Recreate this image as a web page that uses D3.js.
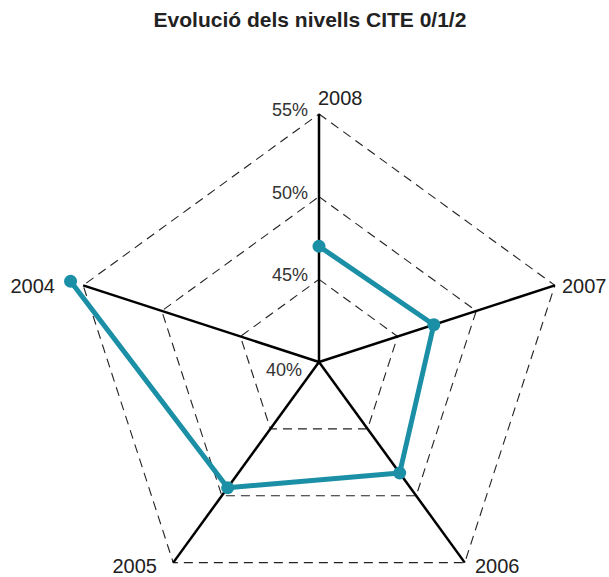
<!DOCTYPE html>
<html>
<head>
<meta charset="utf-8">
<script src="https://cdn.jsdelivr.net/npm/d3@7"></script>
<style>
  body { margin: 0; background: #fff; }
  text { font-family: "Liberation Sans", Arial, sans-serif; }
</style>
</head>
<body>
<svg width="609" height="577"></svg>
<script>
// data
var years = ["2008", "2007", "2006", "2005", "2004"];
var values = [47.0, 47.3, 48.3, 49.4, 55.8];
var levels = [45, 50, 55];
var levelLabels = [40, 45, 50, 55];

var svg = d3.select("svg"),
    cx = 319,
    cy = 362,
    radius = 248;

var r = d3.scaleLinear().domain([40, 55]).range([0, radius]);
var angle = d3.scaleLinear().domain([0, years.length]).range([0, 2 * Math.PI]);

function pt(i, v) {
    var a = angle(i);
    return [cx + r(v) * Math.sin(a), cy - r(v) * Math.cos(a)];
}

// title
svg.append("text")
    .attr("x", 310)
    .attr("y", 27)
    .attr("text-anchor", "middle")
    .style("font-size", "21px")
    .style("font-weight", "bold")
    .style("fill", "#222")
    .text("Evolució dels nivells CITE 0/1/2");

// dashed rings
svg.selectAll(".ring")
    .data(levels)
    .enter().append("polygon")
    .attr("class", "ring")
    .attr("points", function(l) {
        return years.map(function(y, i) { return pt(i, l).join(","); }).join(" ");
    })
    .style("fill", "none")
    .style("stroke", "#222")
    .style("stroke-width", 1.1)
    .style("stroke-dasharray", "9,6");

// axes
svg.selectAll(".axis")
    .data(years)
    .enter().append("line")
    .attr("class", "axis")
    .attr("x1", cx)
    .attr("y1", cy)
    .attr("x2", function(d, i) { return pt(i, 55)[0]; })
    .attr("y2", function(d, i) { return pt(i, 55)[1]; })
    .style("stroke", "#000")
    .style("stroke-width", 2.5);

// percent labels
svg.selectAll(".lvl")
    .data(levelLabels)
    .enter().append("text")
    .attr("class", "lvl")
    .attr("x", function(d) { return d == 40 ? 302 : 308; })
    .attr("y", function(d) { return cy - r(d) + (d == 40 ? 14 : 2); })
    .attr("text-anchor", "end")
    .style("font-size", "18px")
    .style("fill", "#333")
    .text(function(d) { return d + "%"; });

// year labels
var lblPos = [
    {x: 318, y: 105, a: "start"},
    {x: 562, y: 293, a: "start"},
    {x: 475, y: 573, a: "start"},
    {x: 157, y: 573, a: "end"},
    {x: 55, y: 293, a: "end"}
];
svg.selectAll(".yr")
    .data(years)
    .enter().append("text")
    .attr("class", "yr")
    .attr("x", function(d, i) { return lblPos[i].x; })
    .attr("y", function(d, i) { return lblPos[i].y; })
    .attr("text-anchor", function(d, i) { return lblPos[i].a; })
    .style("font-size", "20px")
    .style("fill", "#222")
    .text(function(d) { return d; });

// series
var line = d3.line()
    .x(function(d, i) { return pt(i, d)[0]; })
    .y(function(d, i) { return pt(i, d)[1]; });

svg.append("path")
    .datum(values)
    .attr("d", line)
    .style("fill", "none")
    .style("stroke", "#1a8fa6")
    .style("stroke-width", 5)
    .style("stroke-linejoin", "round");

svg.selectAll(".dot")
    .data(values)
    .enter().append("circle")
    .attr("class", "dot")
    .attr("cx", function(d, i) { return pt(i, d)[0]; })
    .attr("cy", function(d, i) { return pt(i, d)[1]; })
    .attr("r", 6.5)
    .style("fill", "#1a8fa6");
</script>
</body>
</html>
